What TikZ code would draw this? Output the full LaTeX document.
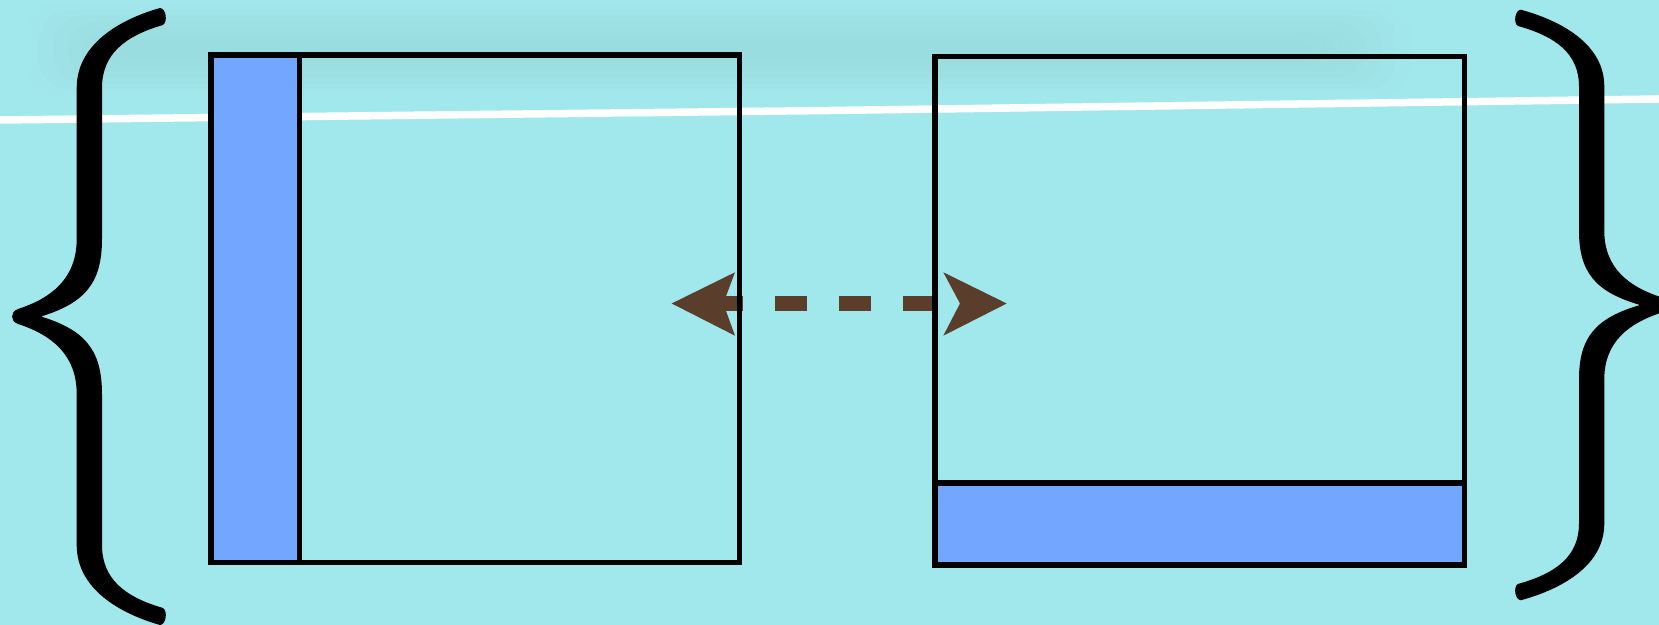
\documentclass[tikz,border=0pt]{standalone}
\usetikzlibrary{calc}
\definecolor{bgcyan}{RGB}{161,232,236}
\definecolor{stripblue}{RGB}{115,167,255}
\definecolor{arrowbrown}{RGB}{90,62,43}
\definecolor{smudge}{RGB}{145,205,208}
\tikzset{
  boxframe/.style={draw=black, line width=0.055cm, rectangle, inner sep=0pt, outer sep=0pt},
  stripbox/.style={boxframe, fill=stripblue},
  headfill/.style={fill=arrowbrown},
  dashshaft/.style={draw=arrowbrown, line width=0.157cm, dash pattern=on 0.317cm off 0.322cm},
  chalkline/.style={draw=white, line width=0.075cm},
  braceink/.style={fill=black},
  smudgelayer/.style={fill=smudge, opacity=0.05}
}
\newcommand{\drawcurlybrace}{%
  \fill[braceink] (160,8) .. controls (118,20) and (76.7,45) .. (76.7,88)
    -- (76.7,239)
    .. controls (76.7,278) and (52,298) .. (18,309)
    .. controls (10,312) and (10,321) .. (18,324)
    .. controls (52,335) and (76.7,355) .. (76.7,394)
    -- (76.7,545)
    .. controls (76.7,588) and (118,613) .. (160,625)
    .. controls (166,625) and (168,611) .. (163,608)
    .. controls (125,597) and (102,579) .. (102,545)
    -- (102,394)
    .. controls (102,350) and (85,330) .. (41,316.5)
    .. controls (85,303) and (102,283) .. (102,239)
    -- (102,88)
    .. controls (102,54) and (125,36) .. (163,25)
    .. controls (168,22) and (166,8) .. (160,8) -- cycle;%
}
\begin{document}
\begin{tikzpicture}[x=0.01cm, y=-0.01cm]
  % page and background
  \useasboundingbox (0,0) rectangle (1659,625);
  \fill[bgcyan] (0,0) rectangle (1659,625);
  % faint blurred texture along the top
  \foreach \i in {0,...,6} {
    \fill[smudgelayer, rounded corners=0.3cm] ({25+\i*14},{4+\i*6}) rectangle ({1410-\i*14},{96-\i*6});
  }
  % white chalk line
  \coordinate (chalkA) at (0,120);
  \coordinate (chalkB) at (830,110.5);
  \coordinate (chalkC) at (1659,99);
  \draw[chalkline] (chalkA) -- (chalkB) -- (chalkC);

  % double arrow
  \coordinate (ltip) at (671.7,303.5);
  \coordinate (lup) at (735,272.3);
  \coordinate (lnotch) at (723.3,303.5);
  \coordinate (ldown) at (735,335.7);
  \coordinate (rtip) at (1006.7,303.5);
  \coordinate (rup) at (943.3,272.3);
  \coordinate (rnotch) at (960,303.5);
  \coordinate (rdown) at (943.3,335.7);
  \coordinate (shaftR) at (935,303.5);
  \fill[headfill] (ltip) -- (lup) -- (lnotch) -- (ldown) -- cycle;
  \fill[headfill] (rtip) -- (rup) -- (rnotch) -- (rdown) -- cycle;
  \draw[dashshaft] (shaftR) -- (lnotch);

  % boxes
  \node[stripbox, minimum width=0.885cm, minimum height=5.07cm, anchor=north west] (lstrip) at (211,55) {};
  \node[boxframe, minimum width=5.28cm, minimum height=5.07cm, anchor=north west] (leftbox) at (211,55) {};
  \node[stripbox, minimum width=5.29cm, minimum height=0.82cm, anchor=south west] (rstrip) at (935,565) {};
  \node[boxframe, minimum width=5.29cm, minimum height=5.08cm, anchor=south west] (rightbox) at (935,565) {};

  % braces
  \begin{scope}
    \drawcurlybrace
  \end{scope}
  \begin{scope}[shift={(1681,2.1)}, xscale=-1, yscale=0.957]
    \drawcurlybrace
  \end{scope}
\end{tikzpicture}
\end{document}
